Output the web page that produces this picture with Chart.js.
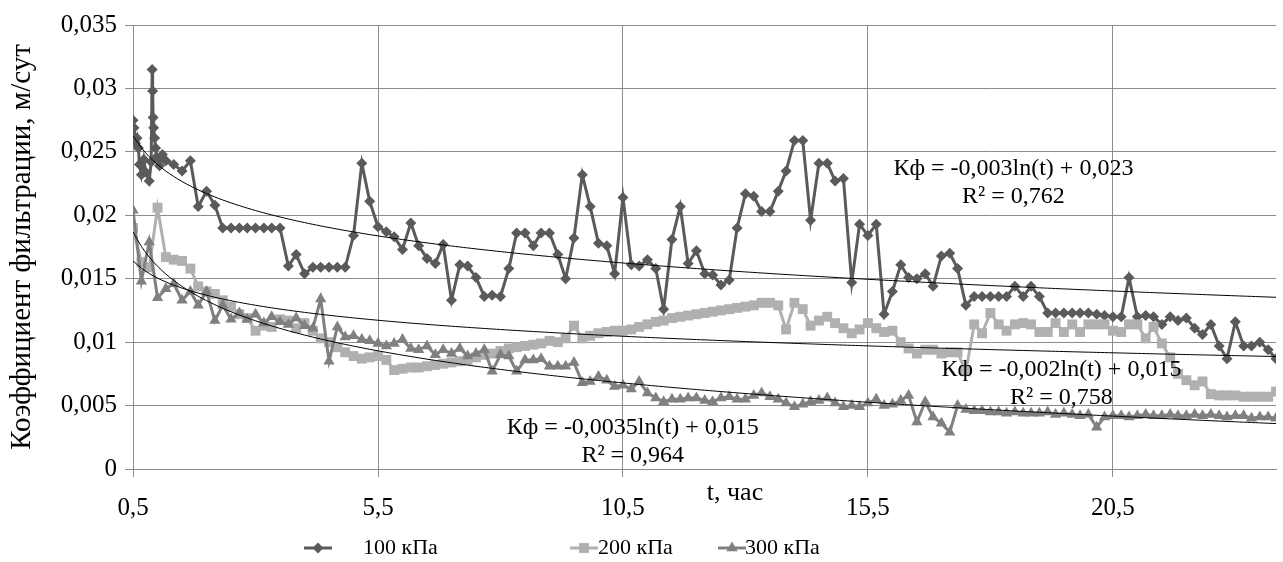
<!DOCTYPE html>
<html>
<head>
<meta charset="utf-8">
<script src="https://cdn.jsdelivr.net/npm/chart.js@4.4.0/dist/chart.umd.min.js"></script>
<style>
  html, body { margin: 0; background: #fff; }
</style>
</head>
<body>
<canvas id="filtrationChart" width="1283" height="562"></canvas>
<script>
// time, hours (10-minute readings)
const hours = [
  0.5, 0.67, 0.83,
  1, 1.17, 1.33, 1.5, 1.67, 1.83,
  2, 2.17, 2.33, 2.5, 2.67, 2.83,
  3, 3.17, 3.33, 3.5, 3.67, 3.83,
  4, 4.17, 4.33, 4.5, 4.67, 4.83,
  5, 5.17, 5.33, 5.5, 5.67, 5.83,
  6, 6.17, 6.33, 6.5, 6.67, 6.83,
  7, 7.17, 7.33, 7.5, 7.67, 7.83,
  8, 8.17, 8.33, 8.5, 8.67, 8.83,
  9, 9.17, 9.33, 9.5, 9.67, 9.83,
  10, 10.17, 10.33, 10.5, 10.67, 10.83,
  11, 11.17, 11.33, 11.5, 11.67, 11.83,
  12, 12.17, 12.33, 12.5, 12.67, 12.83,
  13, 13.17, 13.33, 13.5, 13.67, 13.83,
  14, 14.17, 14.33, 14.5, 14.67, 14.83,
  15, 15.17, 15.33, 15.5, 15.67, 15.83,
  16, 16.17, 16.33, 16.5, 16.67, 16.83,
  17, 17.17, 17.33, 17.5, 17.67, 17.83,
  18, 18.17, 18.33, 18.5, 18.67, 18.83,
  19, 19.17, 19.33, 19.5, 19.67, 19.83,
  20, 20.17, 20.33, 20.5, 20.67, 20.83,
  21, 21.17, 21.33, 21.5, 21.67, 21.83,
  22, 22.17, 22.33, 22.5, 22.67, 22.83,
  23, 23.17, 23.33, 23.5, 23.67, 23.83,
];

// Kф, м/сут
const kpa100 = [
  0.0275, 0.0232, 0.0227, 0.0245, 0.0243, 0.0240, 0.0235, 0.0243, 0.0207, 0.0219,
  0.0208, 0.0190, 0.0190, 0.0190, 0.0190, 0.0190, 0.0190, 0.0190, 0.0190, 0.0160,
  0.0169, 0.0154, 0.0159, 0.0159, 0.0159, 0.0159, 0.0159, 0.0184, 0.0241, 0.0211,
  0.0191, 0.0187, 0.0183, 0.0173, 0.0194, 0.0176, 0.0166, 0.0162, 0.0177, 0.0133,
  0.0161, 0.0160, 0.0151, 0.0136, 0.0137, 0.0136, 0.0158, 0.0186, 0.0186, 0.0176,
  0.0186, 0.0186, 0.0169, 0.0150, 0.0182, 0.0232, 0.0207, 0.0178, 0.0176, 0.0154,
  0.0214, 0.0161, 0.0160, 0.0165, 0.0158, 0.0126, 0.0181, 0.0207, 0.0162, 0.0172,
  0.0154, 0.0153, 0.0145, 0.0149, 0.0190, 0.0217, 0.0215, 0.0203, 0.0203, 0.0219,
  0.0235, 0.0259, 0.0259, 0.0196, 0.0241, 0.0241, 0.0227, 0.0229, 0.0147, 0.0193,
  0.0184, 0.0193, 0.0122, 0.0140, 0.0161, 0.0151, 0.0150, 0.0154, 0.0144, 0.0168,
  0.0170, 0.0158, 0.0129, 0.0136, 0.0136, 0.0136, 0.0136, 0.0136, 0.0144, 0.0136,
  0.0144, 0.0136, 0.0123, 0.0123, 0.0123, 0.0123, 0.0123, 0.0123, 0.0122, 0.0121,
  0.0120, 0.0120, 0.0151, 0.0120, 0.0121, 0.0120, 0.0114, 0.0120, 0.0117, 0.0119,
  0.0111, 0.0106, 0.0114, 0.0097, 0.0087, 0.0116, 0.0097, 0.0097, 0.0100, 0.0094,
  0.0087,
];

// extra readings at the very start of the 100 kPa run
const burstHours100 = [0.52, 0.55, 0.58, 0.61, 0.63, 0.72, 0.76, 0.87, 0.89, 0.9, 0.91, 0.92, 0.94, 0.96, 0.98, 1.04, 1.1];
const burst100 = [0.0269, 0.0257, 0.0261, 0.0253, 0.0240, 0.0244, 0.0234, 0.0242, 0.0315, 0.0298, 0.0277, 0.0269, 0.0261, 0.0253, 0.0246, 0.0239, 0.0248];

const kpa200 = [
  0.0190, 0.0163, 0.0159, 0.0206, 0.0167, 0.0165, 0.0164, 0.0158, 0.0144, 0.0140,
  0.0138, 0.0133, 0.0128, 0.0122, 0.0119, 0.0109, 0.0113, 0.0112, 0.0118, 0.0117,
  0.0111, 0.0115, 0.0109, 0.0103, 0.0100, 0.0096, 0.0092, 0.0089, 0.0087, 0.0088,
  0.0089, 0.0086, 0.0078, 0.0079, 0.0080, 0.0080, 0.0081, 0.0082, 0.0083, 0.0084,
  0.0085, 0.0086, 0.0088, 0.0090, 0.0091, 0.0093, 0.0095, 0.0096, 0.0097, 0.0098,
  0.0099, 0.0101, 0.0100, 0.0103, 0.0113, 0.0103, 0.0105, 0.0107, 0.0108, 0.0109,
  0.0109, 0.0110, 0.0112, 0.0114, 0.0116, 0.0117, 0.0119, 0.0120, 0.0121, 0.0122,
  0.0123, 0.0124, 0.0125, 0.0126, 0.0127, 0.0128, 0.0129, 0.0131, 0.0131, 0.0129,
  0.0110, 0.0131, 0.0126, 0.0113, 0.0117, 0.0120, 0.0115, 0.0111, 0.0107, 0.0110,
  0.0115, 0.0111, 0.0108, 0.0109, 0.0100, 0.0095, 0.0091, 0.0094, 0.0094, 0.0091,
  0.0092, 0.0092, 0.0077, 0.0114, 0.0107, 0.0123, 0.0114, 0.0109, 0.0114, 0.0115,
  0.0114, 0.0108, 0.0108, 0.0115, 0.0108, 0.0114, 0.0108, 0.0114, 0.0114, 0.0114,
  0.0109, 0.0108, 0.0114, 0.0114, 0.0103, 0.0112, 0.0099, 0.0088, 0.0075, 0.0070,
  0.0066, 0.0069, 0.0059, 0.0058, 0.0058, 0.0058, 0.0057, 0.0057, 0.0057, 0.0057,
  0.0061,
];

const kpa300 = [
  0.0204, 0.0148, 0.0179, 0.0135, 0.0142, 0.0146, 0.0133, 0.0140, 0.0129, 0.0140,
  0.0117, 0.0129, 0.0118, 0.0123, 0.0118, 0.0122, 0.0115, 0.0120, 0.0116, 0.0114,
  0.0119, 0.0113, 0.0111, 0.0134, 0.0085, 0.0112, 0.0104, 0.0105, 0.0102, 0.0101,
  0.0099, 0.0097, 0.0099, 0.0102, 0.0095, 0.0094, 0.0097, 0.0090, 0.0094, 0.0091,
  0.0095, 0.0089, 0.0091, 0.0094, 0.0077, 0.0090, 0.0089, 0.0077, 0.0086, 0.0086,
  0.0087, 0.0081, 0.0081, 0.0081, 0.0084, 0.0068, 0.0069, 0.0073, 0.0070, 0.0065,
  0.0066, 0.0063, 0.0069, 0.0060, 0.0056, 0.0053, 0.0055, 0.0055, 0.0056, 0.0056,
  0.0054, 0.0053, 0.0056, 0.0057, 0.0055, 0.0055, 0.0058, 0.0060, 0.0057, 0.0055,
  0.0052, 0.0049, 0.0051, 0.0053, 0.0054, 0.0056, 0.0052, 0.0049, 0.0050, 0.0049,
  0.0052, 0.0055, 0.0050, 0.0051, 0.0054, 0.0058, 0.0037, 0.0053, 0.0041, 0.0036,
  0.0029, 0.0050, 0.0047, 0.0046, 0.0046, 0.0045, 0.0045, 0.0044, 0.0045, 0.0044,
  0.0044, 0.0044, 0.0045, 0.0043, 0.0044, 0.0043, 0.0042, 0.0043, 0.0033, 0.0041,
  0.0042, 0.0042, 0.0041, 0.0042, 0.0043, 0.0042, 0.0042, 0.0043, 0.0042, 0.0042,
  0.0043, 0.0042, 0.0043, 0.0042, 0.0041, 0.0042, 0.0042, 0.0040, 0.0041, 0.0041,
  0.0040,
];

// log trendlines y = a*ln(t) + b
const trend100 = { a: -0.0033, b: 0.0240 };
const trend200 = { a: -0.00195, b: 0.01505 };
const trend300 = { a: -0.00391, b: 0.01598 };

const xTicks = [0.5, 5.5, 10.5, 15.5, 20.5];
const seriesNames = ["100 кПа", "200 кПа", "300 кПа"];
const colors = ["#5a5a5a", "#b0b0b0", "#808080"];
const markers = ["rectRot", "rect", "triangle"];
const markerSizes = [5.5, 7, 6.5];

const FONT = "'Liberation Serif', 'Times New Roman', serif";

function points(xs, ys) {
  return xs.map((x, i) => ({ x: x, y: ys[i] }));
}

function trendPoints(tr) {
  return hours.map((t) => ({ x: t, y: tr.a * Math.log(t) + tr.b }));
}

function comma(v, digits) {
  return String(Number(v.toFixed(digits))).replace(".", ",");
}

const series100 = points(hours, kpa100)
  .concat(points(burstHours100, burst100))
  .sort((p, q) => p.x - q.x);

function seriesSet(i, data) {
  return {
    label: seriesNames[i],
    data: data,
    borderColor: colors[i],
    backgroundColor: colors[i],
    borderWidth: 3,
    pointStyle: markers[i],
    pointRadius: markerSizes[i],
    pointBorderWidth: 0,
    order: 3 - i,
  };
}

function trendSet(tr) {
  return {
    label: "",
    data: trendPoints(tr),
    borderColor: "#000",
    borderWidth: 1,
    pointRadius: 0,
    tension: 0.3,
    order: 0,
  };
}

// equations next to the trendlines, placed in data units
const equations = [
  { t: 18.47, v: 0.0237, lines: ["Кф = -0,003ln(t) + 0,023", "R² = 0,762"] },
  { t: 19.45, v: 0.00785, lines: ["Кф = -0,002ln(t) + 0,015", "R² = 0,758"] },
  { t: 10.7, v: 0.00325, lines: ["Кф = -0,0035ln(t) + 0,015", "R² = 0,964"] },
];

const textPlugin = {
  id: "chartTexts",
  afterDraw(chart) {
    const { ctx, scales } = chart;
    const x = scales.x;
    const y = scales.y;
    ctx.save();
    ctx.fillStyle = "#000";
    ctx.font = "24px " + FONT;
    ctx.textAlign = "center";
    ctx.textBaseline = "middle";

    equations.forEach((eq) => {
      const px = x.getPixelForValue(eq.t);
      const py = y.getPixelForValue(eq.v);
      eq.lines.forEach((line, j) => ctx.fillText(line, px, py + j * 28));
    });

    // axis title sits between the axis and its labels
    ctx.font = "26px " + FONT;
    ctx.fillText("t, час", 735, chart.chartArea.bottom + 24);

    // legend: line + marker, then the name
    ctx.font = "22px " + FONT;
    const legendY = 548;
    const legendX = [318, 584, 732];
    const textX = [363, 598, 745];
    seriesNames.forEach((name, i) => {
      ctx.strokeStyle = colors[i];
      ctx.lineWidth = 3;
      ctx.beginPath();
      ctx.moveTo(legendX[i] - 14, legendY);
      ctx.lineTo(legendX[i] + 14, legendY);
      ctx.stroke();
      ctx.fillStyle = colors[i];
      Chart.helpers.drawPoint(ctx, {
        pointStyle: markers[i],
        radius: markerSizes[i],
        borderWidth: 0,
        rotation: 0,
      }, legendX[i], legendY);
      ctx.fillStyle = "#000";
      ctx.textAlign = "left";
      ctx.fillText(name, textX[i], legendY);
    });
    ctx.restore();
  },
};

new Chart(document.getElementById("filtrationChart"), {
  type: "line",
  data: {
    datasets: [
      seriesSet(0, series100),
      seriesSet(1, points(hours, kpa200)),
      seriesSet(2, points(hours, kpa300)),
      trendSet(trend100),
      trendSet(trend200),
      trendSet(trend300),
    ],
  },
  options: {
    responsive: false,
    animation: false,
    layout: {
      padding: { top: 25, right: 2, bottom: 23, left: 0 },
    },
    plugins: {
      legend: { display: false },
      tooltip: { enabled: false },
    },
    scales: {
      x: {
        type: "linear",
        min: 0.5,
        max: 23.83,
        afterBuildTicks: (scale) => {
          scale.ticks = xTicks.map((v) => ({ value: v }));
        },
        ticks: {
          callback: (value) => comma(value, 1),
          color: "#000",
          font: { family: FONT, size: 25 },
          padding: 16,
          maxRotation: 0,
          autoSkip: false,
        },
        grid: {
          color: "#8c8c8c",
          tickLength: 8,
        },
        border: { color: "#8c8c8c" },
      },
      y: {
        min: 0,
        max: 0.035,
        ticks: {
          stepSize: 0.005,
          callback: (value) => comma(value, 3),
          color: "#000",
          font: { family: FONT, size: 25 },
          padding: 8,
        },
        grid: {
          color: "#8c8c8c",
          tickLength: 8,
        },
        border: { color: "#8c8c8c" },
        title: {
          display: true,
          text: "Коэффициент фильтрации, м/сут",
          color: "#000",
          font: { family: FONT, size: 29 },
          padding: { top: 5, bottom: 13 },
        },
      },
    },
  },
  plugins: [textPlugin],
});
</script>
</body>
</html>
